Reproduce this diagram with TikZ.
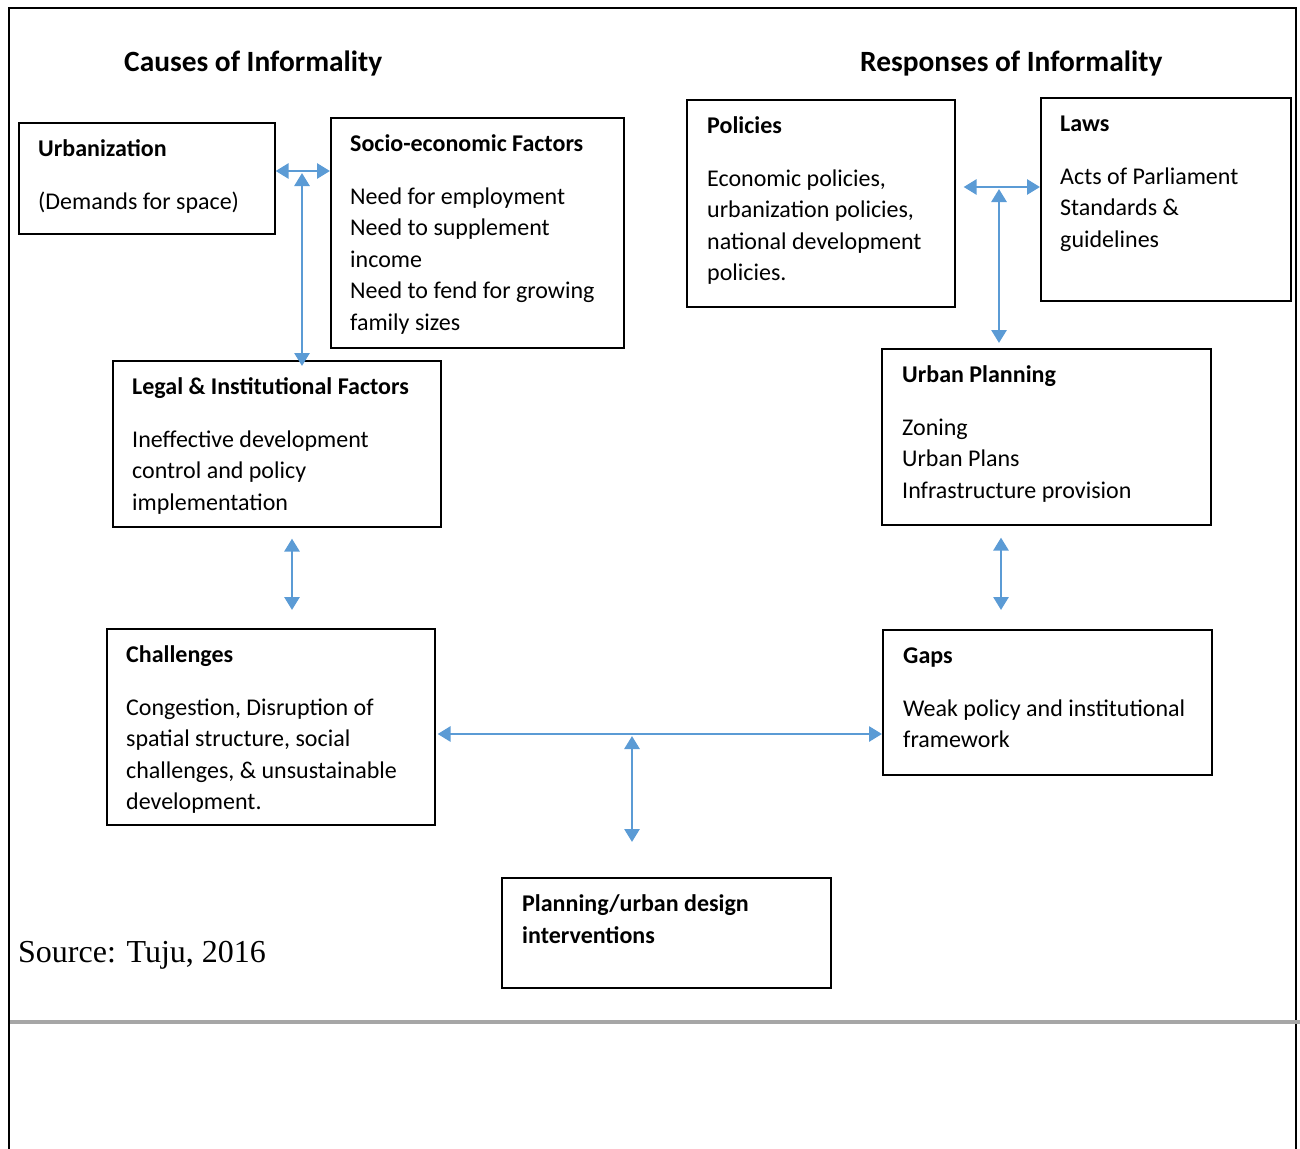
\documentclass[tikz,border=0pt]{standalone}
\usepackage{fontspec}
\setmainfont{Carlito}
\newfontfamily\timesfont{Liberation Serif}
\usetikzlibrary{arrows.meta,positioning}

\definecolor{arrowblue}{HTML}{5B9BD5}
\definecolor{rulegray}{HTML}{A6A6A6}

\begin{document}
\begin{tikzpicture}[x=1pt,y=-1pt,
  frame/.style={draw,line width=1.6pt,inner sep=0pt,anchor=north west},
  txt/.style={anchor=north west,align=left,inner sep=0pt,font=\fontsize{24}{31.5}\selectfont},
  head/.style={anchor=base west,inner sep=0pt,font=\fontsize{29.4}{34}\selectfont\bfseries},
  link/.style={arrowblue,line width=2.8pt,{Triangle[length=13pt,width=15pt]}-{Triangle[length=13pt,width=15pt]}}]
\useasboundingbox (0,0) rectangle (1300,1148);
% page frame and rule
\draw[line width=1.6pt] (9,1160) -- (9,8) -- (1296,8) -- (1296,1160);
\draw[rulegray,line width=4pt] (10,1022) -- (1300,1022);
% headings
\node[head] (causes) at (124,71) {Causes of Informality};
\node[head] (responses) at (860,71) {Responses of Informality};
% causes side
\node[frame,minimum width=256pt,minimum height=111pt] (urb) at (18,122) {};
\node[txt] (urbT) at ([shift={(20,12)}]urb.north west)
  {\strut\textbf{Urbanization}\\[21.5pt](Demands for space)};
\node[frame,minimum width=293pt,minimum height=230pt] (socio) at (330,117) {};
\node[txt] (socioT) at ([shift={(20,12)}]socio.north west)
  {\strut\textbf{Socio-economic Factors}\\[21.5pt]Need for employment\\Need to supplement\\income\\Need to fend for growing\\family sizes};
\node[frame,minimum width=328pt,minimum height=166pt] (legal) at (112,360) {};
\node[txt] (legalT) at ([shift={(20,12)}]legal.north west)
  {\strut\textbf{Legal \& Institutional Factors}\\[21.5pt]Ineffective development\\control and policy\\implementation};
\node[frame,minimum width=328pt,minimum height=196pt] (chall) at (106,628) {};
\node[txt] (challT) at ([shift={(20,12)}]chall.north west)
  {\strut\textbf{Challenges}\\[21.5pt]Congestion, Disruption of\\spatial structure, social\\challenges, \& unsustainable\\development.};
\node[frame,minimum width=329pt,minimum height=110pt] (plan) at (501,877) {};
\node[txt] (planT) at ([shift={(21,12)}]plan.north west)
  {\strut\textbf{Planning/urban design}\\[1pt]\textbf{interventions}};
% responses side
\node[frame,minimum width=268pt,minimum height=207pt] (policies) at (686,99) {};
\node[txt] (policiesT) at ([shift={(21,12)}]policies.north west)
  {\strut\textbf{Policies}\\[21.5pt]Economic policies,\\urbanization policies,\\national development\\policies.};
\node[frame,minimum width=250pt,minimum height=203pt] (laws) at (1040,97) {};
\node[txt] (lawsT) at ([shift={(20,12)}]laws.north west)
  {\strut\textbf{Laws}\\[21.5pt]Acts of Parliament\\Standards \&\\guidelines};
\node[frame,minimum width=329pt,minimum height=176pt] (uplan) at (881,348) {};
\node[txt] (uplanT) at ([shift={(21,12)}]uplan.north west)
  {\strut\textbf{Urban Planning}\\[21.5pt]Zoning\\Urban Plans\\Infrastructure provision};
\node[frame,minimum width=329pt,minimum height=145pt] (gaps) at (882,629) {};
\node[txt] (gapsT) at ([shift={(21,12)}]gaps.north west)
  {\strut\textbf{Gaps}\\[21.5pt]Weak policy and institutional\\framework};
% source
\node[anchor=base west,inner sep=0pt,font=\timesfont\fontsize{32}{38}\selectfont] (source) at (18,962) {Source: Tuju, 2016};
% connectors
\coordinate (j1) at (302,171);
\draw[link] (j1 -| urb.east) -- (j1 -| socio.west);
\draw[link] ([yshift=-2pt]j1) -- ([yshift=-6pt]j1 |- legal.north);
\coordinate (j2) at (999,187);
\draw[link] ([xshift=8pt]policies.east |- j2) -- (j2 -| laws.west);
\draw[link] ([yshift=-2pt]j2) -- ([yshift=5pt]j2 |- uplan.north);
\coordinate (j3) at (292,570);
\draw[link] ([yshift=-11pt]j3 |- legal.south) -- ([yshift=18pt]j3 |- chall.north);
\coordinate (j4) at (1001,573);
\draw[link] ([yshift=-12pt]j4 |- uplan.south) -- ([yshift=19pt]j4 |- gaps.north);
\coordinate (j5) at (632,734);
\draw[link] ([xshift=2pt]j5 -| chall.east) -- (j5 -| gaps.west);
\draw[link] ([yshift=-2pt]j5) -- ([yshift=35pt]j5 |- plan.north);
\end{tikzpicture}
\end{document}
